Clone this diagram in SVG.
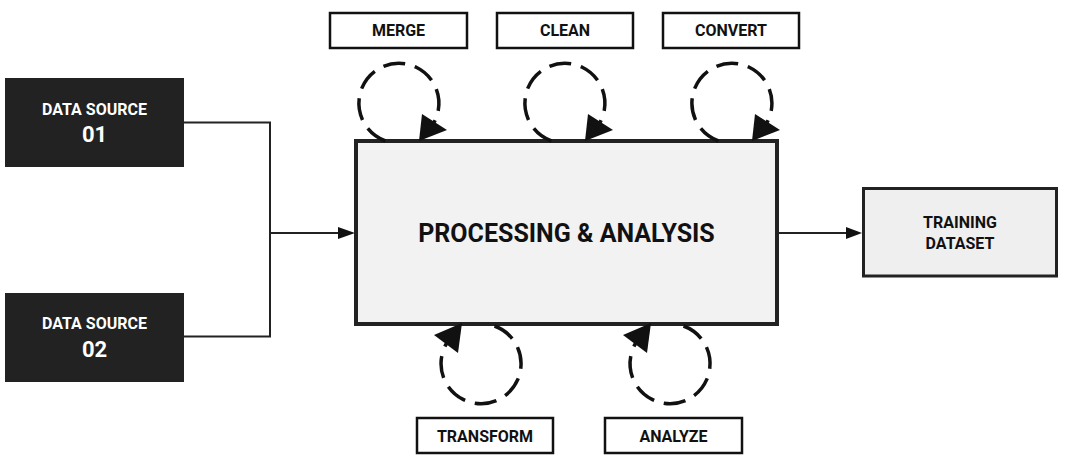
<svg xmlns="http://www.w3.org/2000/svg" width="1065" height="462" viewBox="0 0 1065 462">
<style>
text{font-family:Roboto,"Liberation Sans",Arial,sans-serif;font-weight:bold;text-anchor:middle}
.lbl{fill:#fff;stroke:#111;stroke-width:2.5}
.lt{font-size:16px;fill:#111}
.dark{fill:#222;stroke:none}
.wt{fill:#fff}
.line{fill:none;stroke:#222;stroke-width:2}
.loop{fill:none;stroke:#111;stroke-width:3.5;stroke-dasharray:22 10}
.head{fill:#111}
</style>
<rect width="1065" height="462" fill="#fff"/>
<g id="connectors">
  <path class="line" d="M184,122.5 H270 V336.5 H184 M270,233 H340"/>
  <polygon class="head" points="338,227 355,233 338,239"/>
  <path class="line" d="M779,233 H848"/>
  <polygon class="head" points="846,227 862,233 846,239"/>
</g>
<g id="data-source-01">
  <rect class="dark" x="5" y="78" width="179" height="89"/>
  <text class="wt" x="94.5" y="115" font-size="16">DATA SOURCE</text>
  <text class="wt" x="94.5" y="142" font-size="22">01</text>
</g>
<g id="data-source-02">
  <rect class="dark" x="5" y="293" width="179" height="89"/>
  <text class="wt" x="94.5" y="329" font-size="16">DATA SOURCE</text>
  <text class="wt" x="94.5" y="357" font-size="22">02</text>
</g>
<g id="processing-analysis">
  <rect x="356" y="141" width="421" height="183" fill="#f2f2f2" stroke="#222" stroke-width="4"/>
  <text x="566.5" y="242" font-size="25" fill="#111">PROCESSING &amp; ANALYSIS</text>
</g>
<g id="training-dataset">
  <rect x="863.5" y="188.5" width="193" height="87.5" fill="#efefef" stroke="#222" stroke-width="3"/>
  <text class="lt" x="960" y="228">TRAINING</text>
  <text class="lt" x="960" y="249">DATASET</text>
</g>
<g id="loops">
  <path class="loop" d="M385.5,141 A40,40 0 1 1 434,122.5"/>
  <polygon class="head" points="422,114 447,130 419,141"/>
  <path class="loop" d="M551.5,141 A40,40 0 1 1 600,122.5"/>
  <polygon class="head" points="588,114 613,130 585,141"/>
  <path class="loop" d="M718.5,141 A40,40 0 1 1 767,122.5"/>
  <polygon class="head" points="755,114 780,130 752,141"/>
  <path class="loop" d="M494.5,326 A40,40 0 1 1 446.5,343.5"/>
  <polygon class="head" points="434,335 462,323 458,353"/>
  <path class="loop" d="M683.5,326 A40,40 0 1 1 635.5,343.5"/>
  <polygon class="head" points="623,335 651,323 647,353"/>
</g>
<g id="merge">
  <rect class="lbl" x="330" y="13" width="137" height="35"/>
  <text class="lt" x="398.5" y="36">MERGE</text>
</g>
<g id="clean">
  <rect class="lbl" x="497" y="13" width="136" height="35"/>
  <text class="lt" x="565" y="36">CLEAN</text>
</g>
<g id="convert">
  <rect class="lbl" x="663" y="13" width="136" height="35"/>
  <text class="lt" x="731" y="36">CONVERT</text>
</g>
<g id="transform">
  <rect class="lbl" x="417" y="418" width="136" height="35"/>
  <text class="lt" x="485" y="441.5">TRANSFORM</text>
</g>
<g id="analyze">
  <rect class="lbl" x="605" y="418" width="137" height="35"/>
  <text class="lt" x="673.5" y="441.5">ANALYZE</text>
</g>
</svg>
